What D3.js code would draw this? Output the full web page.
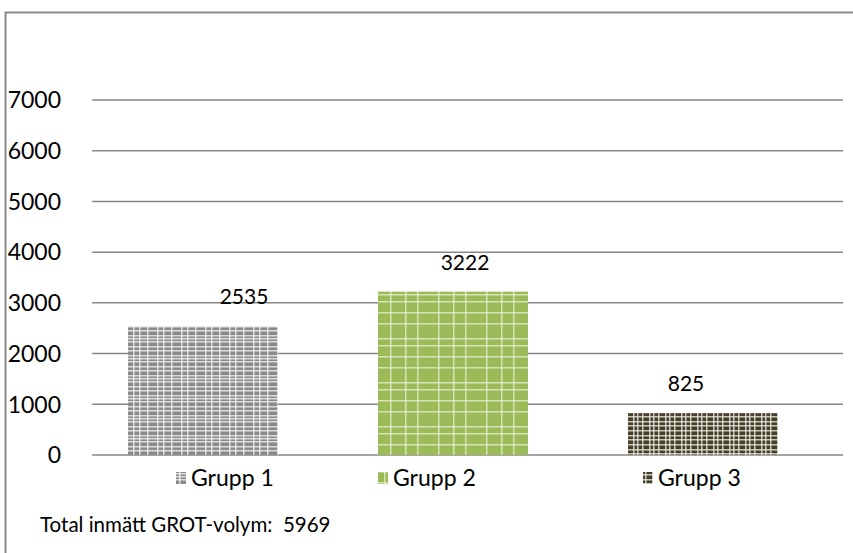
<!DOCTYPE html>
<meta charset="utf-8">
<title>GROT-volym per grupp</title>
<script src="https://d3js.org/d3.v7.min.js"></script>
<style>
  body { margin: 0; background: #fff; }
  text { font-family: Lato, "Open Sans", sans-serif; fill: #000; white-space: pre; }
</style>
<body>
<svg id="chart" width="853" height="553"></svg>
</body>
<script>
  // data
  let groups = ["Grupp 1", "Grupp 2", "Grupp 3"]
  let volumes = [2535, 3222, 825]
  let yTicks = [0, 1000, 2000, 3000, 4000, 5000, 6000, 7000]
  let totalLabel = "Total inmätt GROT-volym:  5969"

  let svg = d3.select("#chart")

  // outer frame (right and bottom run off the picture)
  svg.append("rect")
    .attr("x", 5.5).attr("y", 12.5)
    .attr("width", 900).attr("height", 600)
    .attr("fill", "none")
    .attr("stroke", "#8a8a8a")
    .attr("stroke-width", 2)

  // plaid fills for each group
  let defs = svg.append("defs")
  function plaid(id, base, line, w, h, vx, hy, op) {
    let p = defs.append("pattern")
      .attr("id", id)
      .attr("patternUnits", "userSpaceOnUse")
      .attr("width", w).attr("height", h)
    p.append("rect").attr("width", w).attr("height", h).attr("fill", base)
    vx.forEach(x => p.append("rect").attr("x", x).attr("y", 0)
      .attr("width", 1.5).attr("height", h).attr("fill", line).attr("opacity", op))
    hy.forEach(y => p.append("rect").attr("x", 0).attr("y", y)
      .attr("width", w).attr("height", 1.5).attr("fill", line).attr("opacity", op))
  }
  plaid("p1", "#8a8a8a", "#ffffff", 24, 20, [3, 13, 19], [1, 6, 10, 15, 18], 0.7)
  plaid("p2", "#9bbb59", "#f4f8ea", 48, 44, [6, 21, 33], [4, 15, 30, 37], 0.65)
  plaid("p3", "#45402a", "#f2f1e8", 16, 14, [2, 9, 13], [1, 5, 10], 0.75)
  let fills = ["url(#p1)", "url(#p2)", "url(#p3)"]

  let y = d3.scaleLinear().domain([0, 7000]).range([455, 100])
  let x = d3.scaleBand().domain(groups).range([78, 828])
    .paddingInner(0.4).paddingOuter(0.2)
  let labelX = d3.scalePoint().domain(groups).range([244, 686])

  // gridlines
  svg.append("g").selectAll("line")
    .data(yTicks)
    .enter().append("line")
    .attr("x1", 92).attr("x2", 843)
    .attr("y1", d => y(d)).attr("y2", d => y(d))
    .attr("stroke", "#878787")
    .attr("stroke-width", 1.5)

  // y axis labels
  svg.append("g").selectAll("text")
    .data(yTicks)
    .enter().append("text")
    .attr("x", 61)
    .attr("y", d => y(d))
    .attr("dy", "0.36em")
    .attr("text-anchor", "end")
    .style("font-size", "23px")
    .text(d => d)

  // bars
  svg.append("g").selectAll("rect")
    .data(groups)
    .enter().append("rect")
    .attr("x", d => x(d))
    .attr("y", (d, i) => y(volumes[i]))
    .attr("width", x.bandwidth())
    .attr("height", (d, i) => y(0) - y(volumes[i]))
    .attr("fill", (d, i) => fills[i])

  // value labels
  svg.append("g").selectAll("text")
    .data(groups)
    .enter().append("text")
    .attr("x", d => labelX(d))
    .attr("y", (d, i) => y(volumes[i]) - 22)
    .attr("text-anchor", "middle")
    .style("font-size", "21px")
    .text((d, i) => volumes[i])

  // legend
  let legendX = [176, 378, 643]
  let legend = svg.append("g").selectAll("g")
    .data(groups)
    .enter().append("g")
    .attr("transform", (d, i) => `translate(${legendX[i]},478)`)
  legend.append("rect")
    .attr("x", 0).attr("y", -6)
    .attr("width", 10).attr("height", 12)
    .attr("fill", (d, i) => fills[i])
  legend.append("text")
    .attr("x", 15)
    .attr("dy", "0.36em")
    .style("font-size", "23px")
    .text(d => d)

  svg.append("text")
    .attr("x", 40).attr("y", 532)
    .style("font-size", "20.5px")
    .text(totalLabel)
</script>
